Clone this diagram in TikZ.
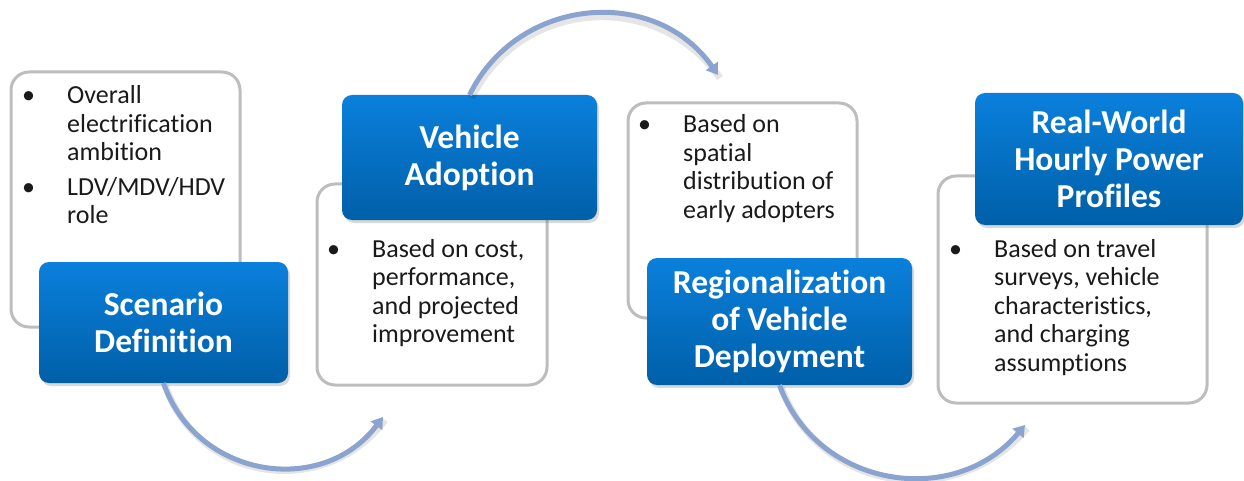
\documentclass[tikz,border=0pt]{standalone}
\usepackage{fontspec}
\setmainfont{Carlito}[Ligatures=NoCommon]
\usetikzlibrary{arrows.meta,shadows}

\definecolor{boxTop}{HTML}{0A80DC}
\definecolor{boxBot}{HTML}{005FA8}
\definecolor{frameGray}{HTML}{BDBDBD}
\definecolor{flowBlue}{HTML}{8BA4CF}
\definecolor{bodyText}{HTML}{1A1A1A}

% bullet list: bullet column, then the item text
\newcommand\notelist[1]{\begin{tabular}[t]{@{}p{45pt}@{}l@{}}#1\end{tabular}}

\tikzset{
  notebox/.style={draw=frameGray, line width=3pt, fill=white, rounded corners=18pt,
    inner sep=0pt, outer sep=0pt},
  stagebox/.style={top color=boxTop, bottom color=boxBot, draw=none, rounded corners=10pt,
    text=white, font=\fontsize{33.5}{37}\selectfont\bfseries, align=center,
    inner sep=0pt, outer sep=0pt,
    drop shadow={shadow xshift=2pt, shadow yshift=-3pt, opacity=0.3}},
  notetext/.style={anchor=base west, inner sep=0pt, text=bodyText,
    font=\fontsize{26}{28.5}\selectfont},
  flow/.style={draw=flowBlue, line width=5pt, -{Triangle[length=11pt,width=14pt]}},
  flowshade/.style={draw=black, opacity=0.1, line width=7pt},
}

\begin{document}
\begin{tikzpicture}[x=1pt,y=1pt]
\useasboundingbox (0,0) rectangle (1244,480);

% ---- note boxes (behind) ----
\node[notebox, minimum width=229pt, minimum height=255pt] (w1) at (125.5,280.5) {};
\node[notebox, minimum width=230pt, minimum height=201pt] (w2) at (432,195.5) {};
\node[notebox, minimum width=229pt, minimum height=215pt] (w3) at (742.5,269.5) {};
\node[notebox, minimum width=269pt, minimum height=227pt] (w4) at (1072.5,190.5) {};

% ---- note texts ----
\node[notetext] (n1) at ([shift={(11pt,-32pt)}]w1.north west)
  {\notelist{\textbullet & Overall\\ & electrification\\ & ambition\\[6pt]
   \textbullet & LDV/MDV/HDV\\ & role}};
\node[notetext] (n2) at ([shift={(10pt,-73pt)}]w2.north west)
  {\notelist{\textbullet & Based on cost,\\ & performance,\\ & and projected\\ & improvement}};
\node[notetext] (n3) at ([shift={(10pt,-30pt)}]w3.north west)
  {\notelist{\textbullet & Based on\\ & spatial\\ & distribution\ of\\ & early adopters}};
\node[notetext] (n4) at ([shift={(11pt,-81pt)}]w4.north west)
  {\notelist{\textbullet & Based on travel\\ & surveys, vehicle\\ & characteristics,\\ & and charging\\ & assumptions}};

% ---- stage boxes ----
\node[stagebox, minimum width=249pt, minimum height=121pt] (b1) at (163.5,157.5)
  {Scenario\\Definition};
\node[stagebox, minimum width=255pt, minimum height=125pt] (b2) at (469.5,322.5)
  {Vehicle\\Adoption};
\node[stagebox, minimum width=265pt, minimum height=127pt] (b3) at (779.5,158.5)
  {Regionalization\\of Vehicle\\Deployment};
\node[stagebox, minimum width=268pt, minimum height=132pt] (b4) at (1109,321)
  {Real-World\\Hourly Power\\Profiles};

% ---- arrow ends ----
\coordinate (t1) at (383,63);
\coordinate (t2) at (718,405);
\coordinate (t3) at (1025,55);

% ---- curved flow arrows ----
\draw[flowshade] ([shift={(2pt,-3pt)}]b1.south) to[out=289,in=233,looseness=1.16] ([shift={(2pt,-3pt)}]t1);
\draw[flowshade] ([shift={(2pt,-3pt)}]b2.north) to[out=64,in=125,looseness=1.13] ([shift={(2pt,-3pt)}]t2);
\draw[flowshade] ([shift={(2pt,-3pt)}]b3.south) to[out=290,in=230,looseness=1.13] ([shift={(2pt,-3pt)}]t3);

\draw[flow] (b1.south) to[out=289,in=233,looseness=1.16] (t1);
\draw[flow] (b2.north) to[out=64,in=125,looseness=1.13] (t2);
\draw[flow] (b3.south) to[out=290,in=230,looseness=1.13] (t3);
\end{tikzpicture}
\end{document}
